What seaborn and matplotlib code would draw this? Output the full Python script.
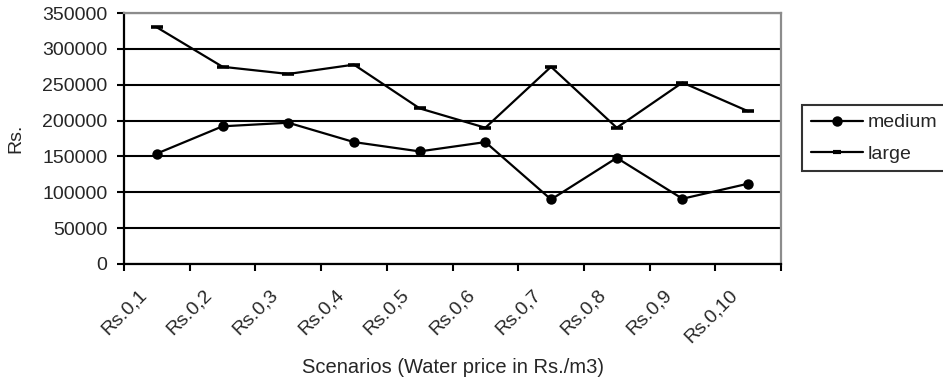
import matplotlib
matplotlib.use("Agg")
import matplotlib.pyplot as plt
import matplotlib.transforms as mtransforms
from matplotlib.lines import Line2D
import seaborn as sns
import pandas as pd
import numpy as np

categories = ["Rs.0,1", "Rs.0,2", "Rs.0,3", "Rs.0,4", "Rs.0,5",
              "Rs.0,6", "Rs.0,7", "Rs.0,8", "Rs.0,9", "Rs.0,10"]
medium = [154000, 192000, 197000, 170000, 157000, 170000, 90000, 148000, 91000, 112000]
large = [330000, 275000, 265000, 278000, 217000, 190000, 275000, 190000, 253000, 213000]
yticks = [0, 50000, 100000, 150000, 200000, 250000, 300000, 350000]

df_medium = pd.DataFrame({"scenario": categories, "value": medium})
df_large = pd.DataFrame({"scenario": categories, "value": large})

sns.set_style("white")
plt.rcParams["font.family"] = ["Liberation Sans", "DejaVu Sans"]
FS = 14

fig = plt.figure(figsize=(9.43, 3.89), dpi=100)
ax = fig.add_axes([124 / 943, 1 - 264 / 389, (781 - 124) / 943, (264 - 13) / 389])

sns.lineplot(data=df_medium, x="scenario", y="value", color="black", marker="o",
             markersize=7.5, markeredgewidth=0, linewidth=1.6, sort=False, ax=ax)
sns.lineplot(data=df_large, x="scenario", y="value", color="black", marker="_",
             markersize=8, markeredgewidth=2.6, markeredgecolor="black",
             linewidth=1.6, sort=False, ax=ax)

n = len(categories)
ax.set_xlim(-0.5, n - 0.5)
ax.set_ylim(0, 350000)
ax.set_yticks(yticks)
ax.set_yticklabels([str(v) for v in yticks], fontsize=FS)
ax.yaxis.grid(True, color="black", linewidth=1.5)
ax.xaxis.grid(False)
ax.set_axisbelow(True)

ax.set_xticks(np.arange(-0.5, n, 1.0))
ax.set_xticklabels([""] * (n + 1))
ax.set_xticks(np.arange(n), minor=True)
ax.set_xticklabels(categories, minor=True, rotation=45, ha="right",
                   rotation_mode="anchor", fontsize=FS)
ax.tick_params(axis="x", which="major", direction="out", length=5, width=1.5,
               color="black", bottom=True)
ax.tick_params(axis="x", which="minor", length=0, pad=16)
ax.tick_params(axis="y", direction="out", length=5, width=1.5, color="black",
               left=True, pad=7)
for lab in ax.get_xticklabels(minor=True):
    lab.set_transform(lab.get_transform() + mtransforms.ScaledTranslation(-19 / 100, 0, fig.dpi_scale_trans))

for s in ["left", "bottom"]:
    ax.spines[s].set_color("black")
    ax.spines[s].set_linewidth(1.6)
for s in ["right", "top"]:
    ax.spines[s].set_color("#8c8c8c")
    ax.spines[s].set_linewidth(1.6)
    ax.spines[s].set_visible(True)

ax.set_xlabel("Scenarios (Water price in Rs./m3)", fontsize=14.5, labelpad=9)
ax.set_ylabel("Rs.", fontsize=FS, labelpad=13)

handles = [
    Line2D([], [], color="black", linewidth=1.6, marker="o", markersize=7.5, markeredgewidth=0),
    Line2D([], [], color="black", linewidth=1.6, marker="_", markersize=6, markeredgewidth=3),
]
leg = fig.legend(handles, ["medium", "large"], loc="upper left",
                 bbox_to_anchor=(802 / 943, 1 - 105 / 389), fontsize=FS,
                 frameon=True, fancybox=False, handlelength=2.7, handletextpad=0.25,
                 borderpad=0.45, labelspacing=0.7, borderaxespad=0)
leg.get_frame().set_edgecolor("black")
leg.get_frame().set_linewidth(1.5)

fig.savefig("out.png", dpi=100)
